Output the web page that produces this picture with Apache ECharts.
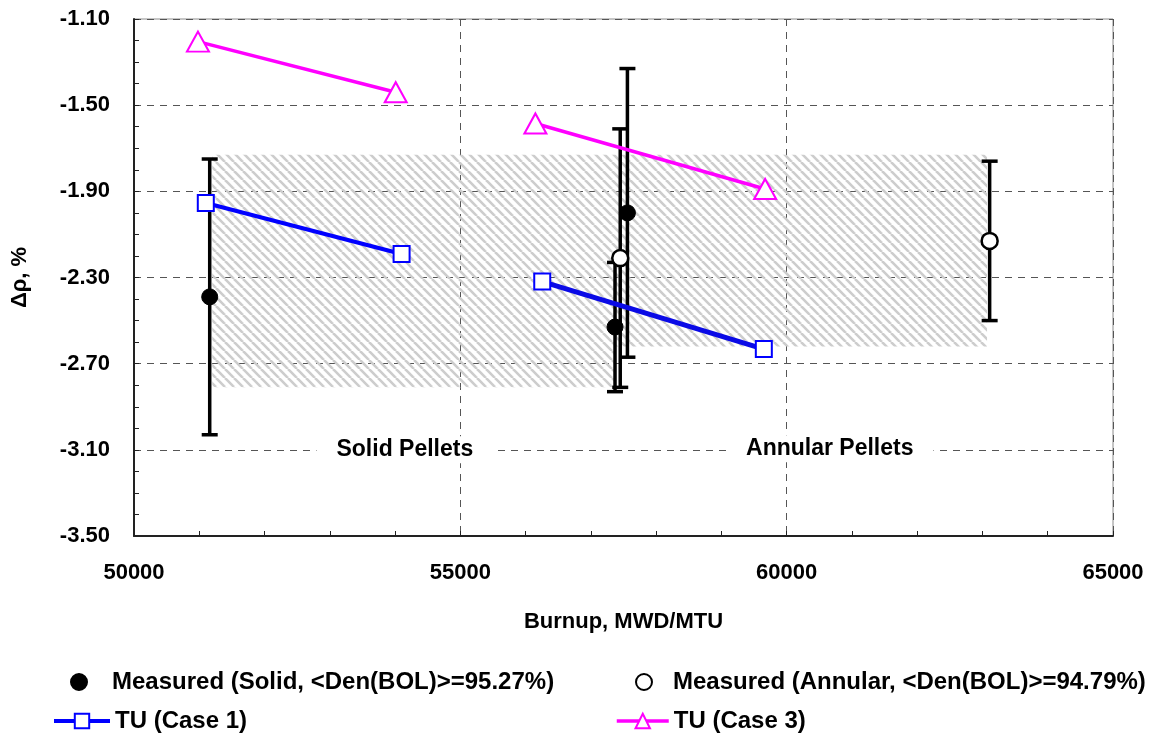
<!DOCTYPE html>
<html>
<head>
<meta charset="utf-8">
<script src="https://cdn.jsdelivr.net/npm/echarts@6/dist/echarts.min.js"></script>
<style>
  html, body { margin: 0; padding: 0; background: #fff; }
  #chart { width: 1159px; height: 736px; }
</style>
</head>
<body>
<div id="chart"></div>
<script>
// ---- data ----
const xTicks = [50000, 55000, 60000, 65000];
const yTicks = [-3.50, -3.10, -2.70, -2.30, -1.90, -1.50, -1.10];

// Measured, solid pellets: burnup, delta-rho and +/- uncertainty
const solidBurnup = [51160, 57370, 57560];
const solidDrho   = [-2.39, -2.53, -2.00];
const solidErr    = [0.64, 0.30, 0.67];

// Measured, annular pellets
const annularBurnup = [57450, 63110];
const annularDrho   = [-2.21, -2.13];
const annularErr    = [0.60, 0.37];

// TU (Case 1) predictions, solid and annular pairs
const case1SolidBurnup   = [51100, 54100];
const case1SolidDrho     = [-1.954, -2.191];
const case1AnnularBurnup = [56255, 59650];
const case1AnnularDrho   = [-2.319, -2.632];

// TU (Case 3) predictions
const case3SolidBurnup   = [50980, 54010];
const case3SolidDrho     = [-1.205, -1.440];
const case3AnnularBurnup = [56150, 59670];
const case3AnnularDrho   = [-1.585, -1.889];

// measured scatter bands (burnup range, delta-rho range)
const solidBandX   = [51200, 57370];
const solidBandY   = [-1.73, -2.81];
const annularBandX = [57370, 63070];
const annularBandY = [-1.73, -2.62];

// region labels
const regionNames  = ['Solid Pellets', 'Annular Pellets'];
const regionBurnup = [54150, 60660];
const regionDrho   = [-3.10, -3.095];

// ---- helpers ----
const FONT = '"Liberation Sans", Arial, sans-serif';
const pairs = (xs, ys) => xs.map((x, i) => [x, ys[i]]);
const triples = (xs, ys, es) => xs.map((x, i) => [x, ys[i], es[i]]);

// light diagonal hatching running from upper left to lower right
function hatchPattern() {
  const s = 9;
  const c = document.createElement('canvas');
  c.width = s; c.height = s;
  const g = c.getContext('2d');
  g.strokeStyle = '#cdcdcd';
  g.lineWidth = 2.6;
  [-s, 0, s].forEach(o => {
    g.beginPath();
    g.moveTo(o, 0);
    g.lineTo(o + s, s);
    g.stroke();
  });
  return c;
}

function errorBarItem(params, api) {
  const x = api.value(0), y = api.value(1), e = api.value(2);
  const top = api.coord([x, y + e]);
  const bot = api.coord([x, y - e]);
  const cap = 8;
  const st = { stroke: '#000', lineWidth: 3.5 };
  return {
    type: 'group',
    children: [
      { type: 'line', shape: { x1: top[0], y1: top[1], x2: bot[0], y2: bot[1] }, style: st },
      { type: 'line', shape: { x1: top[0] - cap, y1: top[1], x2: top[0] + cap, y2: top[1] }, style: st },
      { type: 'line', shape: { x1: bot[0] - cap, y1: bot[1], x2: bot[0] + cap, y2: bot[1] }, style: st }
    ]
  };
}

const chart = echarts.init(document.getElementById('chart'), null, { renderer: 'canvas' });

const legendText = { fontFamily: FONT, fontWeight: 'bold', fontSize: 24, color: '#000' };

const case1Style = {
  type: 'line', name: 'TU (Case 1)', z: 5,
  symbol: 'rect', symbolSize: 16,
  itemStyle: { color: '#fff', borderColor: '#0000ff', borderWidth: 2, opacity: 1 },
  lineStyle: { color: '#0000ff', width: 4 },
  emphasis: { disabled: true }
};
const case3Style = {
  type: 'line', name: 'TU (Case 3)', z: 5,
  symbol: 'triangle', symbolSize: [22, 20],
  itemStyle: { color: '#fff', borderColor: '#ff00ff', borderWidth: 2, opacity: 1 },
  lineStyle: { color: '#ff00ff', width: 3.5 },
  emphasis: { disabled: true }
};

const option = {
  animation: false,
  backgroundColor: '#fff',
  grid: {
    left: 134, right: 46, top: 19, bottom: 200,
    show: true, borderColor: '#8c8c8c', borderWidth: 1
  },
  xAxis: {
    type: 'value',
    min: xTicks[0], max: xTicks[xTicks.length - 1], interval: 5000,
    name: 'Burnup, MWD/MTU', nameLocation: 'middle', nameGap: 75,
    nameTextStyle: { fontFamily: FONT, fontWeight: 'bold', fontSize: 22, color: '#000' },
    axisLine: { show: true, onZero: false, lineStyle: { color: '#222', width: 2 } },
    axisTick: { show: true, inside: true, length: 5, lineStyle: { color: '#222', width: 1 } },
    minorTick: { show: true, splitNumber: 5, length: 5, lineStyle: { color: '#222', width: 1 } },
    axisLabel: {
      fontFamily: FONT, fontWeight: 'bold', fontSize: 22, color: '#000', margin: 26,
      formatter: v => String(v)
    },
    splitLine: { show: true, lineStyle: { color: '#555', width: 1, type: [7, 6] } }
  },
  yAxis: {
    type: 'value',
    min: yTicks[0], max: yTicks[yTicks.length - 1], interval: 0.4,
    name: 'Δρ, %', nameLocation: 'middle', nameGap: 103, nameRotate: 90,
    nameTextStyle: { fontFamily: FONT, fontWeight: 'bold', fontSize: 22, color: '#000' },
    axisLine: { show: true, onZero: false, lineStyle: { color: '#222', width: 2 } },
    axisTick: { show: true, inside: true, length: 5, lineStyle: { color: '#222', width: 1 } },
    minorTick: { show: true, splitNumber: 4, length: 5, lineStyle: { color: '#222', width: 1 } },
    axisLabel: {
      fontFamily: FONT, fontWeight: 'bold', fontSize: 22, color: '#000', margin: 24,
      formatter: v => v.toFixed(2)
    },
    splitLine: { show: true, lineStyle: { color: '#555', width: 1, type: [7, 6] } }
  },
  legend: [
    { data: ['Measured (Solid, <Den(BOL)>=95.27%)'], left: 70, top: 670, padding: 0,
      itemWidth: 16, itemHeight: 16, textStyle: Object.assign({ padding: [0, 0, 0, 20] }, legendText) },
    { data: ['Measured (Annular, <Den(BOL)>=94.79%)'], left: 635, top: 670, padding: 0,
      itemWidth: 16, itemHeight: 16, textStyle: Object.assign({ padding: [0, 0, 0, 16] }, legendText) },
    { data: ['TU (Case 1)'], left: 52, top: 709, padding: 0,
      itemWidth: 56, itemHeight: 18, lineStyle: { width: 4 },
      textStyle: legendText },
    { data: ['TU (Case 3)'], left: 615, top: 709, padding: 0,
      itemWidth: 52, itemHeight: 18, lineStyle: { width: 3.5 },
      textStyle: legendText }
  ],
  series: [
    {
      // hatched bands and region labels
      type: 'line', name: 'bands', data: [], z: 1, silent: true,
      markArea: {
        silent: true,
        itemStyle: { color: { image: hatchPattern(), repeat: 'repeat' }, opacity: 1 },
        data: [
          [{ coord: [solidBandX[0], solidBandY[0]] }, { coord: [solidBandX[1], solidBandY[1]] }],
          [{ coord: [annularBandX[0], annularBandY[0]] }, { coord: [annularBandX[1], annularBandY[1]] }]
        ]
      },
      markPoint: {
        silent: true, symbol: 'rect', symbolSize: 0,
        label: {
          show: true, position: 'inside', formatter: '{b}',
          fontFamily: FONT, fontWeight: 'bold', fontSize: 23, color: '#000',
          backgroundColor: '#fff', padding: [2, 20]
        },
        data: regionNames.map((n, i) => ({ name: n, coord: [regionBurnup[i], regionDrho[i]] }))
      }
    },
    {
      type: 'custom', name: 'solid error', z: 3, silent: true,
      renderItem: errorBarItem,
      data: triples(solidBurnup, solidDrho, solidErr)
    },
    {
      type: 'custom', name: 'annular error', z: 3, silent: true,
      renderItem: errorBarItem,
      data: triples(annularBurnup, annularDrho, annularErr)
    },
    {
      type: 'scatter', name: 'Measured (Solid, <Den(BOL)>=95.27%)', z: 4,
      symbol: 'circle', symbolSize: 16,
      itemStyle: { color: '#000', borderColor: '#000', borderWidth: 1, opacity: 1 },
      emphasis: { disabled: true },
      data: pairs(solidBurnup, solidDrho)
    },
    {
      type: 'scatter', name: 'Measured (Annular, <Den(BOL)>=94.79%)', z: 4,
      symbol: 'circle', symbolSize: 16,
      itemStyle: { color: '#fff', borderColor: '#000', borderWidth: 2.5, opacity: 1 },
      emphasis: { disabled: true },
      data: pairs(annularBurnup, annularDrho)
    },
    Object.assign({ data: pairs(case1SolidBurnup, case1SolidDrho) }, case1Style),
    Object.assign({ data: pairs(case1AnnularBurnup, case1AnnularDrho) }, case1Style,
      { lineStyle: { color: '#0a0ae6', width: 5 } }),
    Object.assign({ data: pairs(case3SolidBurnup, case3SolidDrho) }, case3Style),
    Object.assign({ data: pairs(case3AnnularBurnup, case3AnnularDrho) }, case3Style)
  ]
};

chart.setOption(option);
</script>
</body>
</html>
